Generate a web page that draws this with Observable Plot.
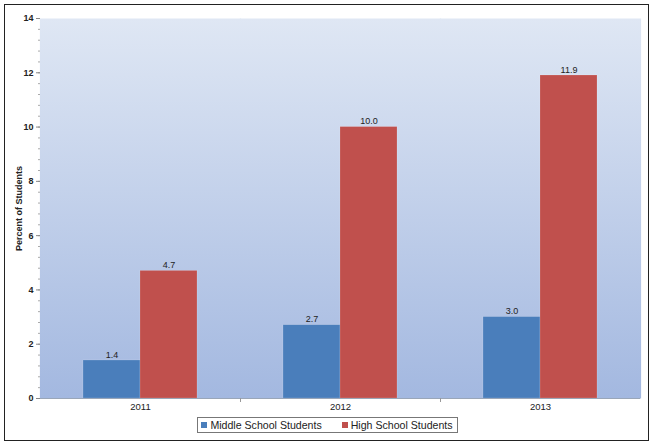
<!DOCTYPE html>
<html>
<head>
<meta charset="utf-8">
<script src="https://cdn.jsdelivr.net/npm/d3@7"></script>
<script src="https://cdn.jsdelivr.net/npm/@observablehq/plot@0.6"></script>
<style>
  html, body { margin: 0; padding: 0; background: #fff; }
  #wrap { position: relative; width: 654px; height: 446px; font-family: "Liberation Sans", Arial, sans-serif; }
  #border { position: absolute; left: 4px; top: 4px; width: 643px; height: 435px; border: 1.5px solid #222; pointer-events: none; }
  #chart svg { display: block; }
  #legend { margin: 5px auto 0 auto; width: 259px; height: 14px; border: 1px solid #777; display: flex; align-items: center; justify-content: center; gap: 20px; font-size: 10.6px; color: #222; line-height: 14px; white-space: nowrap; }
  .item { display: flex; align-items: center; gap: 3px; flex-shrink: 0; }
  .sw { width: 6px; height: 6px; display: inline-block; }
</style>
</head>
<body>
<div id="wrap">
  <div id="chart"></div>
  <div id="legend"></div>
  <div id="border"></div>
</div>
<script>
const years = ["2011", "2012", "2013"];
const seriesNames = ["Middle School Students", "High School Students"];
const middleSchool = [1.4, 2.7, 3.0];
const highSchool = [4.7, 10.0, 11.9];
const seriesColors = ["#4a7ebb", "#c0504d"];
const yTicks = [0, 2, 4, 6, 8, 10, 12, 14];

const data = [];
years.forEach((y, i) => {
  data.push({year: y, series: seriesNames[0], value: middleSchool[i]});
  data.push({year: y, series: seriesNames[1], value: highSchool[i]});
});

const W = 654, H = 412, mL = 40, mR = 14, mT = 18, mB = 14;
const bandHalf = (W - mL - mR) / years.length / 2;

const plot = Plot.plot({
  width: W,
  height: H,
  marginLeft: mL,
  marginRight: mR,
  marginTop: mT,
  marginBottom: mB,
  style: {fontFamily: "'Liberation Sans', Arial, sans-serif", fontSize: "9px", color: "#222", background: "transparent", overflow: "visible"},
  fx: {domain: years, padding: 0, label: null, axis: null},
  x: {domain: seriesNames, paddingInner: 0, paddingOuter: 0.754, axis: null},
  y: {domain: [0, 14], axis: null},
  color: {domain: seriesNames, range: seriesColors},
  marks: [
    Plot.frame({fill: "url(#bgGrad)", stroke: null, insetLeft: -0.6, insetRight: -0.6}),
    Plot.barY(data, {fx: "year", x: "series", y: "value", fill: "series", stroke: "#ffffff", strokeOpacity: 0.25, strokeWidth: 0.6}),
    Plot.text(data, {fx: "year", x: "series", y: "value", text: d => d.value.toFixed(1), lineAnchor: "bottom", dy: -3, fill: "#222", fontSize: 9}),
    Plot.ruleY([0], {stroke: "#9aa6b8", strokeWidth: 1}),
    Plot.axisY({ticks: d3.range(0, 14.01, 0.4), tickSize: 2, text: null, stroke: "#aaa", label: null}),
    Plot.axisY({ticks: yTicks, tickSize: 4, tickPadding: 3, fontWeight: "bold", fontSize: 9, stroke: "#888", label: "Percent of Students", labelAnchor: "center", labelOffset: 25, labelArrow: "none"}),
    Plot.axisFx({anchor: "bottom", tickSize: 0, tickPadding: 5, fontSize: 9.5, label: null}),
    Plot.axisFx({anchor: "bottom", ticks: years.slice(0, -1), tickSize: 4, text: null, stroke: "#999", dx: bandHalf, label: null})
  ]
});

// gradient for plot background
const ns = "http://www.w3.org/2000/svg";
const defs = document.createElementNS(ns, "defs");
defs.innerHTML = `<linearGradient id="bgGrad" x1="0" y1="0" x2="0" y2="1">
  <stop offset="0" stop-color="#dfe7f4"/>
  <stop offset="1" stop-color="#a3b8e0"/>
</linearGradient>`;
plot.insertBefore(defs, plot.firstChild);
document.getElementById("chart").appendChild(plot);

// legend
const legend = document.getElementById("legend");
seriesNames.forEach((s, i) => {
  const it = document.createElement("span");
  it.className = "item";
  it.innerHTML = `<span class="sw" style="background:${seriesColors[i]}"></span><span>${s}</span>`;
  legend.appendChild(it);
});
</script>
</body>
</html>
